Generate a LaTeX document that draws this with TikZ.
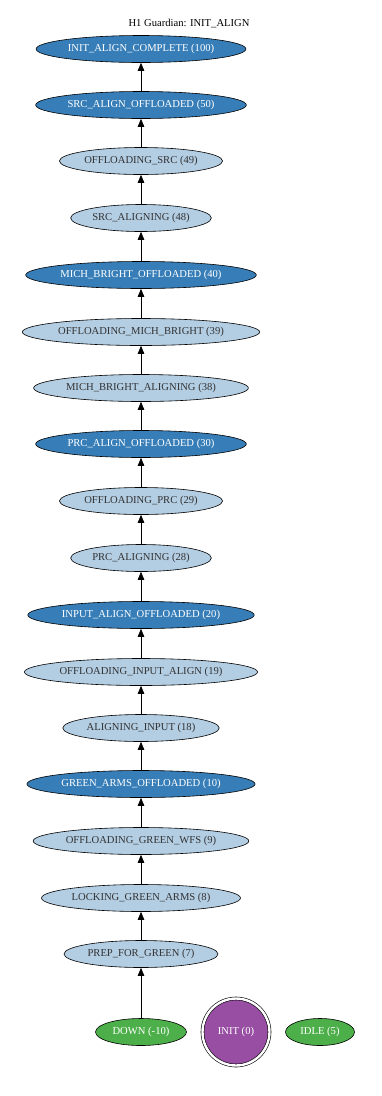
\documentclass[tikz,border=0pt]{standalone}
\usepackage{fontspec}
\setmainfont{Liberation Serif}
\usepackage{xcolor}
\usetikzlibrary{shapes.geometric,arrows.meta}

\definecolor{darkstate}{HTML}{377EB8}
\definecolor{lightstate}{HTML}{B3CDE3}
\definecolor{greenstate}{HTML}{4DAF4A}
\definecolor{initstate}{HTML}{984EA3}

\tikzset{
  state/.style={ellipse, draw, line width=0.6pt, inner xsep=1pt, minimum height=27pt, font=\fontsize{10.6}{12}\selectfont},
  darknode/.style={state, fill=darkstate, text=white},
  lightnode/.style={state, fill=lightstate, text=black!80},
  greennode/.style={state, fill=greenstate, text=white},
  edge/.style={-{Triangle[length=8pt,width=6.5pt]}, line width=0.6pt}
}

\begin{document}
\begin{tikzpicture}[x=1pt,y=-1pt]
        \useasboundingbox (0,0) rectangle (382,1096);
        \node[font=\fontsize{10.6}{12}\selectfont] (title) at (189,24) {H1 Guardian: INIT\_ALIGN};
        \node[darknode] (s100) at (141,49) {INIT\_ALIGN\_COMPLETE (100)};
        \node[darknode] (s50) at (141,105) {SRC\_ALIGN\_OFFLOADED (50)};
        \node[lightnode] (s49) at (141,161) {OFFLOADING\_SRC (49)};
        \node[lightnode] (s48) at (141,218) {SRC\_ALIGNING (48)};
        \node[darknode] (s40) at (141,275) {MICH\_BRIGHT\_OFFLOADED (40)};
        \node[lightnode] (s39) at (141,332) {OFFLOADING\_MICH\_BRIGHT (39)};
        \node[lightnode] (s38) at (141,388) {MICH\_BRIGHT\_ALIGNING (38)};
        \node[darknode] (s30) at (141,444) {PRC\_ALIGN\_OFFLOADED (30)};
        \node[lightnode] (s29) at (141,501) {OFFLOADING\_PRC (29)};
        \node[lightnode] (s28) at (141,558) {PRC\_ALIGNING (28)};
        \node[darknode] (s20) at (141,615) {INPUT\_ALIGN\_OFFLOADED (20)};
        \node[lightnode] (s19) at (141,672) {OFFLOADING\_INPUT\_ALIGN (19)};
        \node[lightnode] (s18) at (141,728) {ALIGNING\_INPUT (18)};
        \node[darknode] (s10) at (141,784) {GREEN\_ARMS\_OFFLOADED (10)};
        \node[lightnode] (s9) at (141,841) {OFFLOADING\_GREEN\_WFS (9)};
        \node[lightnode] (s8) at (141,898) {LOCKING\_GREEN\_ARMS (8)};
        \node[lightnode] (s7) at (141,954) {PREP\_FOR\_GREEN (7)};
        \node[greennode, minimum width=91pt] (down) at (141,1032) {DOWN (-10)};
        \node[circle, draw, line width=0.6pt, double, double distance=2.4pt, fill=initstate, text=white, minimum size=67pt, inner sep=0pt, font=\fontsize{10.6}{12}\selectfont] (init) at (236,1032) {INIT (0)};
        \node[greennode, minimum width=69pt] (idle) at (320,1032) {IDLE (5)};
        % transitions, bottom to top
        \draw[edge] (down) -- (s7);
        \draw[edge] (s7) -- (s8);
        \draw[edge] (s8) -- (s9);
        \draw[edge] (s9) -- (s10);
        \draw[edge] (s10) -- (s18);
        \draw[edge] (s18) -- (s19);
        \draw[edge] (s19) -- (s20);
        \draw[edge] (s20) -- (s28);
        \draw[edge] (s28) -- (s29);
        \draw[edge] (s29) -- (s30);
        \draw[edge] (s30) -- (s38);
        \draw[edge] (s38) -- (s39);
        \draw[edge] (s39) -- (s40);
        \draw[edge] (s40) -- (s48);
        \draw[edge] (s48) -- (s49);
        \draw[edge] (s49) -- (s50);
        \draw[edge] (s50) -- (s100);
\end{tikzpicture}
\end{document}
